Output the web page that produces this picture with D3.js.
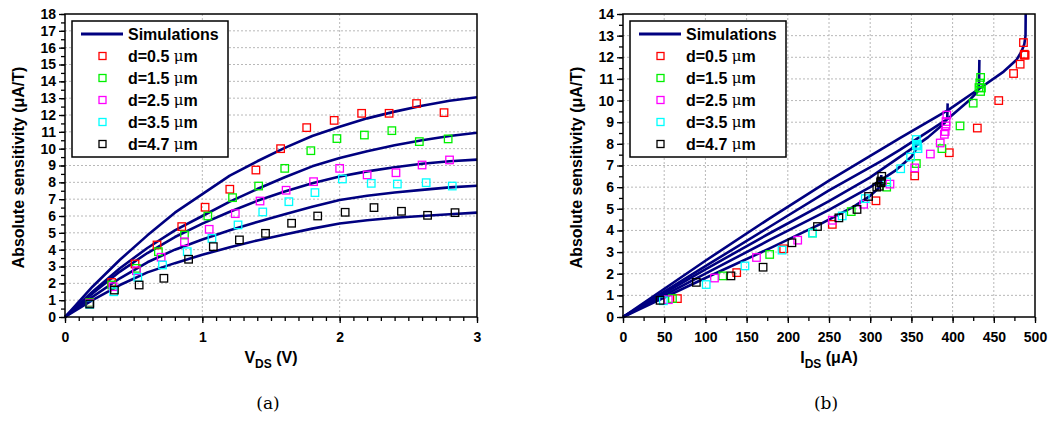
<!DOCTYPE html>
<html><head><meta charset="utf-8">
<script src="https://cdn.jsdelivr.net/npm/d3@7"></script>
<style>body{margin:0;background:#fff}svg{display:block}</style>
</head><body><svg id="c" width="1053" height="421" font-family="'Liberation Sans',Arial,sans-serif"></svg>
<script>
// ---------- data ----------
const seriesNames = ["d=0.5 ", "d=1.5 ", "d=2.5 ", "d=3.5 ", "d=4.7 "];
const seriesColors = ["#ff0000", "#00f000", "#ff00ff", "#00ffff", "#000000"];

// measured points, panel (a): V_DS (V)
const vdsRed   = [0.18,0.34,0.51,0.67,0.85,1.02,1.20,1.39,1.57,1.76,1.96,2.16,2.36,2.56,2.76];
const vdsGreen = [0.18,0.34,0.52,0.68,0.87,1.04,1.22,1.41,1.60,1.79,1.98,2.18,2.38,2.58,2.79];
const vdsMag   = [0.18,0.35,0.52,0.70,0.87,1.05,1.24,1.42,1.61,1.81,2.00,2.20,2.41,2.60,2.80];
const vdsCyan  = [0.18,0.355,0.53,0.71,0.89,1.07,1.26,1.44,1.63,1.82,2.02,2.23,2.42,2.63,2.82];
const vdsBlack = [0.18,0.36,0.54,0.72,0.90,1.08,1.27,1.46,1.65,1.84,2.04,2.25,2.45,2.64,2.84];
// sensitivity (uA/T)
const sensRed   = [0.85,2.05,3.15,4.28,5.37,6.52,7.59,8.73,10.0,11.25,11.68,12.1,12.1,12.68,12.14];
const sensGreen = [0.85,1.9,2.89,3.88,4.87,6.0,7.09,7.78,8.83,9.88,10.6,10.81,11.07,10.42,10.58];
const sensMag   = [0.8,1.8,2.75,3.55,4.47,5.21,6.14,6.89,7.53,8.04,8.83,8.44,8.57,9.03,9.33];
const sensCyan  = [0.75,1.5,2.36,3.09,3.88,4.67,5.47,6.24,6.85,7.39,8.2,7.94,7.9,7.98,7.78];
const sensBlack = [0.77,1.6,1.9,2.3,3.43,4.18,4.58,4.97,5.57,6.0,6.22,6.5,6.28,6.04,6.2];
// measured points, panel (b): I_DS (uA)
const idsRed   = [66,138,195,254,307,354,396,430,456,474,482,487,488,486,487];
const idsGreen = [60,121,178,230,277,320,356,387,409,425,432,433,434,434,435];
const idsMag   = [55,111,162,212,254,292,324,354,373,385,392,390,391,392,393];
const idsCyan  = [49,101,148,193,230,266,294,320,337,349,356,356,357,357,358];
const idsBlack = [45,89,131,170,205,236,262,284,298,308,313,314,313,311,313];

// simulations, panel (a)
const simVds   = [0,0.2,0.4,0.6,0.8,1.0,1.2,1.4,1.6,1.8,2.0,2.2,2.4,2.6,2.8,3.0];
const simARed   = [0,1.8,3.4,4.85,6.2,7.3,8.4,9.25,10.05,10.75,11.3,11.8,12.2,12.55,12.85,13.05];
const simAGreen = [0,1.5,2.9,4.1,5.15,6.0,6.85,7.6,8.3,8.95,9.45,9.85,10.2,10.5,10.75,10.95];
const simAMag   = [0,1.4,2.7,3.8,4.75,5.55,6.25,6.9,7.45,7.95,8.35,8.65,8.9,9.1,9.25,9.35];
const simACyan  = [0,1.2,2.3,3.25,4.0,4.6,5.15,5.65,6.1,6.55,6.95,7.2,7.4,7.55,7.7,7.8];
const simABlack = [0,1.0,1.9,2.65,3.2,3.7,4.15,4.55,4.9,5.25,5.55,5.75,5.9,6.0,6.1,6.2];

// simulations, panel (b)
const simBRedI   = [0,100,178,250,292,336,395,430,462,478,484,487,488.5,488.7];
const simBRedS   = [0,2.6,4.56,6.3,7.26,8.26,9.57,10.49,11.34,11.9,12.3,12.6,13.0,14.0];
const simBGreenI = [0,100,178,250,316,336,395,420,430,432,432.5];
const simBGreenS = [0,2.35,4.17,5.85,7.26,7.72,9.18,10.0,10.4,10.6,11.88];
const simBMagI   = [0,100,178,250,300,340,370,390,393.5,394];
const simBMagS   = [0,2.2,3.87,5.35,6.45,7.5,8.3,8.95,9.2,9.87];
const simBCyanI  = [0,100,178,250,300,330,350,355,355.5];
const simBCyanS  = [0,2.0,3.56,4.95,6.0,6.75,7.4,7.7,8.2];
const simBBlackI = [0,100,178,240,280,300,310,313,313.5];
const simBBlackS = [0,1.8,3.17,4.3,5.1,5.6,5.95,6.1,6.56];

// ticks
const aXTicks = [0,1,2,3];
const aYTicks = [0,1,2,3,4,5,6,7,8,9,10,11,12,13,14,15,16,17,18];
const bXTicks = [0,50,100,150,200,250,300,350,400,450,500];
const bYTicks = [0,1,2,3,4,5,6,7,8,9,10,11,12,13,14];

// ---------- drawing ----------
const svg = d3.select("#c");
svg.append("rect").attr("width",1053).attr("height",421).attr("fill","#fff");
const NAVY = "#000080";
const SANS = "'Liberation Sans',Arial,sans-serif";
const SERIF = "'DejaVu Serif','Liberation Serif',serif";

function zip(a,b){ return a.map((v,i)=>[v,b[i]]); }

function panel(opt){
  const g = svg.append("g");
  const x = d3.scaleLinear().domain(opt.xd).range([opt.x0,opt.x1]);
  const y = d3.scaleLinear().domain(opt.yd).range([opt.y1,opt.y0]);
  // grid
  g.append("g").selectAll("line").data(opt.xTicks.slice(1,-1)).join("line")
    .attr("x1",d=>x(d)).attr("x2",d=>x(d)).attr("y1",opt.y0).attr("y2",opt.y1)
    .attr("stroke","#b8b8b8").attr("stroke-width",1).attr("stroke-dasharray","2,2");
  g.append("g").selectAll("line").data(opt.yTicks.slice(1,-1)).join("line")
    .attr("y1",d=>y(d)).attr("y2",d=>y(d)).attr("x1",opt.x0).attr("x2",opt.x1)
    .attr("stroke","#b8b8b8").attr("stroke-width",1).attr("stroke-dasharray","2,2");
  // axes
  g.append("g").attr("transform",`translate(0,${opt.y1})`)
    .call(d3.axisBottom(x).tickValues(opt.xMinor).tickSize(4).tickFormat(""));
  g.append("g").attr("transform",`translate(0,${opt.y1})`)
    .call(d3.axisBottom(x).tickValues(opt.xTicks).tickSize(6).tickPadding(9).tickFormat(d3.format("d")));
  g.append("g").attr("transform",`translate(${opt.x0},0)`)
    .call(d3.axisLeft(y).tickValues(opt.yMinor).tickSize(4).tickFormat(""));
  g.append("g").attr("transform",`translate(${opt.x0},0)`)
    .call(d3.axisLeft(y).tickValues(opt.yTicks).tickSize(6).tickPadding(3).tickFormat(d3.format("d")));
  g.selectAll(".domain").remove();
  g.selectAll(".tick line").attr("stroke","#000").attr("stroke-width",1.3);
  g.selectAll(".tick text").attr("font-size",14).attr("font-weight","bold").attr("fill","#000")
    .attr("font-family",SANS);
  // curves
  const line = d3.line().x(d=>x(d[0])).y(d=>y(d[1]));
  opt.sims.forEach(s=>{
    g.append("path").attr("d",line(s)).attr("fill","none").attr("stroke",NAVY)
      .attr("stroke-width",2.6).attr("stroke-linejoin","round");
  });
  // points
  opt.pts.forEach((s,i)=>{
    g.append("g").selectAll("rect").data(s).join("rect")
      .attr("x",d=>x(d[0])-3.75).attr("y",d=>y(d[1])-3.75).attr("width",7.5).attr("height",7.5)
      .attr("fill","none").attr("stroke",seriesColors[i]).attr("stroke-width",1.3);
  });
  // frame
  g.append("rect").attr("x",opt.x0).attr("y",opt.y0).attr("width",opt.x1-opt.x0)
    .attr("height",opt.y1-opt.y0).attr("fill","none").attr("stroke","#000").attr("stroke-width",1.5);
  // y title
  g.append("text").attr("transform",`translate(${opt.x0-47},${(opt.y0+opt.y1)/2+2}) rotate(-90)`)
    .attr("text-anchor","middle").attr("dominant-baseline","central")
    .attr("font-size",16).attr("font-weight","bold").text("Absolute sensitivity (μA/T)");
  // x title
  const xt = g.append("text").attr("x",(opt.x0+opt.x1)/2).attr("y",363)
    .attr("text-anchor","middle").attr("font-size",16).attr("font-weight","bold");
  xt.append("tspan").text(opt.xLab[0]);
  xt.append("tspan").attr("font-size",12).attr("dy",5).text(opt.xLab[1]);
  xt.append("tspan").attr("dy",-5).text(" "+opt.xLab[2]);
  // caption
  g.append("text").attr("x",(opt.x0+opt.x1)/2-3).attr("y",409).attr("text-anchor","middle")
    .attr("font-family",SERIF).attr("font-size",17)
    .text(opt.cap);
  // legend
  const lx = opt.x0+7, ly = 21;
  const lg = g.append("g");
  lg.append("rect").attr("x",lx).attr("y",ly).attr("width",156).attr("height",136)
    .attr("fill","#fff").attr("stroke","#000").attr("stroke-width",1.5);
  lg.append("line").attr("x1",lx+9).attr("x2",lx+51).attr("y1",ly+13).attr("y2",ly+13)
    .attr("stroke",NAVY).attr("stroke-width",3);
  lg.append("text").attr("x",lx+56).attr("y",ly+13).attr("dominant-baseline","central")
    .attr("font-size",16).attr("font-weight","bold").text("Simulations");
  seriesNames.forEach((n,i)=>{
    const yy = ly+35+i*22;
    lg.append("rect").attr("x",lx+27).attr("y",yy-3.5).attr("width",7).attr("height",7)
      .attr("fill","none").attr("stroke",seriesColors[i]).attr("stroke-width",1.3);
    const t = lg.append("text").attr("x",lx+56).attr("y",yy).attr("dominant-baseline","central")
      .attr("font-size",16).attr("font-weight","bold");
    t.append("tspan").text(n);
    t.append("tspan").attr("font-weight","normal").attr("font-family",SERIF).attr("font-size",15).text("μ");
    t.append("tspan").text("m");
  });
}

const aXMinor = d3.range(0,31).map(i=>i/10);
const aYMinor = d3.range(0,37).map(i=>i/2);
const bXMinor = d3.range(0,21).map(i=>i*25);
const bYMinor = d3.range(0,29).map(i=>i/2);

panel({x0:65,x1:477,y0:14,y1:317,xd:[0,3],yd:[0,18],xTicks:aXTicks,yTicks:aYTicks,
  xMinor:aXMinor,yMinor:aYMinor,xLab:["V","DS","(V)"],cap:"(a)",
  sims:[zip(simVds,simARed),zip(simVds,simAGreen),zip(simVds,simAMag),zip(simVds,simACyan),zip(simVds,simABlack)],
  pts:[zip(vdsRed,sensRed),zip(vdsGreen,sensGreen),zip(vdsMag,sensMag),zip(vdsCyan,sensCyan),zip(vdsBlack,sensBlack)]});

panel({x0:623,x1:1035,y0:14,y1:317,xd:[0,500],yd:[0,14],xTicks:bXTicks,yTicks:bYTicks,
  xMinor:bXMinor,yMinor:bYMinor,xLab:["I","DS","(μA)"],cap:"(b)",
  sims:[zip(simBRedI,simBRedS),zip(simBGreenI,simBGreenS),zip(simBMagI,simBMagS),zip(simBCyanI,simBCyanS),zip(simBBlackI,simBBlackS)],
  pts:[zip(idsRed,sensRed),zip(idsGreen,sensGreen),zip(idsMag,sensMag),zip(idsCyan,sensCyan),zip(idsBlack,sensBlack)]});
</script></body></html>
